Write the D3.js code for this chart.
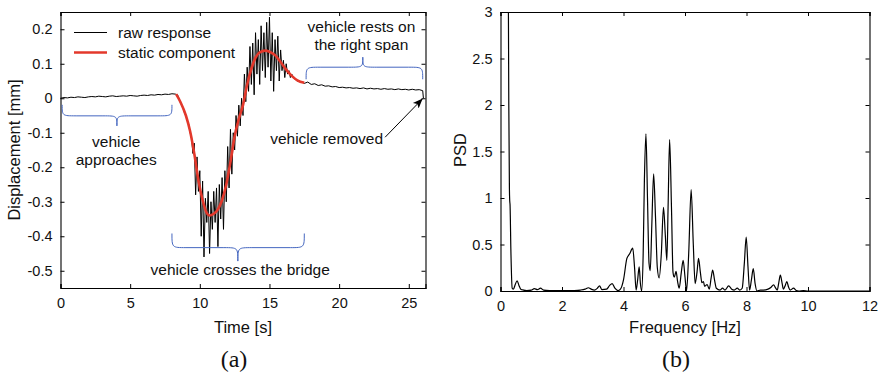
<!DOCTYPE html>
<html><head><meta charset="utf-8">
<script src="https://cdn.jsdelivr.net/npm/d3@7"></script>
<style>
body{margin:0;background:#fff;}
svg{display:block;}
text{font-family:"Liberation Sans",Arial,sans-serif;fill:#111;}
</style></head>
<body><svg id="c" width="881" height="373"></svg>
<script>
// ---------- DATA ----------
const timeTicks = [0,5,10,15,20,25];
const dispTicks = [-0.5,-0.4,-0.3,-0.2,-0.1,0,0.1,0.2];
const freqTicks = [0,2,4,6,8,10,12];
const psdTicks = [0,0.5,1,1.5,2,2.5,3];
const legendLabels = ["raw response","static component"];

// raw response: [time s, displacement mm]
const rawResponse = [
[0,0.000],[0.25,0.002],[0.5,0.001],[0.75,0.003],[1,0.002],[1.25,0.004],[1.5,0.003],[1.75,0.002],[2,0.004],[2.25,0.005],
[2.5,0.004],[2.75,0.006],[3,0.005],[3.25,0.004],[3.5,0.006],[3.75,0.007],[4,0.005],[4.25,0.006],[4.5,0.007],[4.75,0.006],
[5,0.008],[5.25,0.007],[5.5,0.006],[5.75,0.008],[6,0.009],[6.25,0.008],[6.5,0.010],[6.75,0.009],[7,0.011],[7.25,0.010],
[7.5,0.012],[7.75,0.011],[8,0.013],[8.25,0.012],
[8.4,0.010],[8.5,0.0],[8.6,-0.012],[8.7,-0.02],[8.8,-0.03],[8.9,-0.042],[9.0,-0.05],[9.1,-0.065],[9.2,-0.075],[9.3,-0.1],
[9.4,-0.11],[9.5,-0.16],[9.6,-0.13],[9.7,-0.28],[9.8,-0.17],[9.9,-0.27],[10.0,-0.21],[10.1,-0.40],[10.2,-0.24],[10.3,-0.46],
[10.4,-0.29],[10.5,-0.36],[10.6,-0.27],[10.7,-0.45],[10.8,-0.30],[10.9,-0.38],[11.0,-0.27],[11.1,-0.36],[11.2,-0.26],[11.3,-0.43],
[11.4,-0.25],[11.5,-0.35],[11.6,-0.23],[11.7,-0.38],[11.8,-0.21],[11.9,-0.30],[12.0,-0.14],[12.1,-0.26],[12.2,-0.09],[12.3,-0.22],
[12.4,-0.10],[12.5,-0.15],[12.6,-0.05],[12.7,-0.11],[12.8,-0.02],[12.9,-0.08],[13.0,0.0],[13.1,-0.05],[13.2,0.07],[13.3,-0.01],
[13.4,0.09],[13.5,0.02],[13.6,0.15],[13.7,0.04],[13.8,0.16],[13.9,0.01],[14.0,0.19],[14.1,0.07],[14.2,0.17],[14.3,0.04],
[14.4,0.21],[14.5,0.08],[14.6,0.19],[14.7,0.06],[14.8,0.22],[14.9,0.09],[15.0,0.235],[15.1,0.05],[15.2,0.19],[15.3,0.02],
[15.4,0.17],[15.5,0.08],[15.6,0.18],[15.7,0.05],[15.8,0.14],[15.9,0.08],[16.0,0.11],[16.1,0.06],[16.2,0.10],[16.3,0.07],
[16.4,0.08],[16.5,0.06],[16.6,0.07],
[16.75,0.058],[17,0.05],[17.25,0.048],[17.5,0.043],[17.75,0.047],[18,0.04],[18.25,0.042],[18.5,0.037],[18.75,0.039],[19,0.035],
[19.25,0.036],[19.5,0.033],[19.75,0.034],[20,0.031],[20.25,0.032],[20.5,0.03],[20.75,0.031],[21,0.029],[21.25,0.030],[21.5,0.028],
[21.75,0.03],[22,0.027],[22.25,0.029],[22.5,0.027],[22.75,0.028],[23,0.026],[23.25,0.028],[23.5,0.026],[23.75,0.027],[24,0.025],
[24.25,0.027],[24.5,0.025],[24.75,0.026],[25,0.024],[25.25,0.026],[25.5,0.024],[25.75,0.025],[26.0,0.022],[26.05,0.0]
];

// static component: [time s, displacement mm]
const staticComponent = [
[8.3,0.012],[8.6,-0.01],[9.0,-0.05],[9.3,-0.095],[9.6,-0.16],[9.9,-0.238],[10.2,-0.295],[10.5,-0.333],[10.7,-0.34],[11.0,-0.335],
[11.3,-0.322],[11.6,-0.295],[11.9,-0.25],[12.2,-0.185],[12.5,-0.11],[12.8,-0.06],[13.1,-0.02],[13.4,0.04],[13.7,0.085],[14.0,0.118],
[14.3,0.133],[14.7,0.138],[15.0,0.135],[15.4,0.125],[15.8,0.105],[16.2,0.083],[16.6,0.065],[17.0,0.052],[17.5,0.045]
];

// PSD: [frequency Hz, PSD]
const psd = [
[0.25,3.6],[0.27,2.0],[0.29,1.1],[0.30,0.97],[0.31,0.93],[0.34,0.4],[0.38,0.03],[0.42,0.02],[0.48,0.07],[0.54,0.11],
[0.6,0.06],[0.66,0.02],[0.75,0.01],[0.85,0.005],[1.0,0.01],[1.1,0.025],[1.2,0.015],[1.3,0.03],[1.4,0.01],[1.6,0.005],
[2.0,0.003],[2.4,0.005],[2.6,0.01],[2.75,0.02],[2.86,0.035],[2.95,0.02],[3.05,0.01],[3.15,0.03],[3.22,0.055],[3.3,0.015],
[3.45,0.02],[3.55,0.06],[3.63,0.08],[3.72,0.03],[3.82,0.005],[3.9,0.02],[4.0,0.12],[4.11,0.35],[4.2,0.4],[4.3,0.46],
[4.36,0.25],[4.41,0.01],[4.46,0.12],[4.51,0.26],[4.55,0.08],[4.59,0.0],[4.64,0.4],[4.68,1.2],[4.73,1.69],[4.78,1.0],
[4.83,0.3],[4.87,0.22],[4.92,0.7],[4.98,1.26],[5.04,0.8],[5.1,0.25],[5.16,0.14],[5.23,0.4],[5.3,0.9],[5.36,0.6],
[5.41,0.33],[5.45,0.9],[5.5,1.63],[5.56,0.9],[5.61,0.2],[5.65,0.15],[5.71,0.21],[5.76,0.1],[5.81,0.03],[5.88,0.2],
[5.94,0.33],[6.0,0.15],[6.05,0.0],[6.12,0.4],[6.2,1.09],[6.27,0.5],[6.33,0.08],[6.39,0.2],[6.44,0.35],[6.5,0.2],
[6.55,0.09],[6.6,0.1],[6.64,0.05],[6.72,0.07],[6.79,0.02],[6.85,0.14],[6.9,0.225],[6.96,0.12],[7.02,0.03],[7.14,0.01],
[7.22,0.03],[7.3,0.01],[7.42,0.055],[7.52,0.02],[7.6,0.01],[7.7,0.03],[7.78,0.01],[7.86,0.03],[7.93,0.3],[7.99,0.58],
[8.05,0.25],[8.1,0.01],[8.16,0.12],[8.22,0.24],[8.28,0.08],[8.34,0.0],[8.45,0.01],[8.55,0.01],[8.7,0.02],[8.8,0.04],
[8.88,0.065],[8.95,0.03],[9.0,0.01],[9.05,0.09],[9.1,0.17],[9.16,0.08],[9.2,0.02],[9.26,0.06],[9.31,0.1],[9.37,0.04],
[9.42,0.01],[9.53,0.03],[9.62,0.005],[9.7,0.0],[9.85,0.005],[10.0,0.0],[11,0.0],[12,0.0]
];

// ---------- DRAW ----------
const svg = d3.select("#c");
const blue = "#4466c0";

function frame(g, x, y, xt, yt, xfmt, yfmt){
  const [x0,x1] = x.range(), [y0,y1] = y.range();
  g.append("g").attr("transform",`translate(0,${y0})`)
    .call(d3.axisBottom(x).tickValues(xt).tickSize(-4).tickPadding(10).tickFormat(xfmt));
  g.append("g").attr("transform",`translate(0,${y1})`)
    .call(d3.axisTop(x).tickValues(xt).tickSize(-4).tickFormat(""));
  g.append("g").attr("transform",`translate(${x0},0)`)
    .call(d3.axisLeft(y).tickValues(yt).tickSize(-4).tickPadding(8).tickFormat(yfmt));
  g.append("g").attr("transform",`translate(${x1},0)`)
    .call(d3.axisRight(y).tickValues(yt).tickSize(-4).tickFormat(""));
  g.selectAll(".domain").attr("stroke","#000").attr("stroke-width",1.1);
  g.selectAll(".tick line").attr("stroke","#000");
  g.selectAll(".tick text").style("font-size","14.5px").attr("fill","#111");
}

// ---- panel (a)
const xa = d3.scaleLinear().domain([0,26.2]).range([60.5,425.5]);
const ya = d3.scaleLinear().domain([-0.55,0.25]).range([288,12]);
const ga = svg.append("g");
const fmtA = d => d===0 ? "0" : d3.format(".1f")(d).replace("−","-");
frame(ga, xa, ya, timeTicks, dispTicks, d3.format("d"), fmtA);

const lineA = d3.line().x(d=>xa(d[0])).y(d=>ya(d[1]));
ga.append("path").datum(rawResponse).attr("d",lineA)
  .attr("fill","none").attr("stroke","#000").attr("stroke-width",1);
ga.append("path").datum(staticComponent).attr("d",lineA.curve(d3.curveMonotoneX))
  .attr("fill","none").attr("stroke","#e3382b").attr("stroke-width",2.6);

// legend
const leg = ga.append("g");
[["#000",1.2],["#e3382b",2.6]].forEach((s,i)=>{
  const yy = 32.5 + i*20;
  leg.append("line").attr("x1",74).attr("x2",107).attr("y1",yy).attr("y2",yy)
    .attr("stroke",s[0]).attr("stroke-width",s[1]);
  leg.append("text").attr("x",118).attr("y",yy+5.5).style("font-size","15.5px").text(legendLabels[i]);
});

// braces (in data units)
function brace(g, t1, t2, vEnd, vMid, vTip, tTip){
  const x1=xa(t1), x2=xa(t2), ye=ya(vEnd), ym=ya(vMid), yt=ya(vTip), xm=xa(tTip);
  const r = 14;
  const p = `M${x1},${ye} C${x1},${ym} ${x1},${ym} ${x1+r},${ym} L${xm-r},${ym} C${xm},${ym} ${xm},${ym} ${xm},${yt}`+
            ` M${xm},${yt} C${xm},${ym} ${xm},${ym} ${xm+r},${ym} L${x2-r},${ym} C${x2},${ym} ${x2},${ym} ${x2},${ye}`;
  g.append("path").attr("d",p).attr("fill","none").attr("stroke",blue).attr("stroke-width",1);
}
brace(ga, 0.12, 8.0, -0.019, -0.051, -0.08, 4.05);
brace(ga, 8.0, 17.5, -0.392, -0.433, -0.472, 12.73);
brace(ga, 17.63, 26.0, 0.055, 0.09, 0.119, 21.7);

const ann = (x,y,s,anchor="middle") => ga.append("text").attr("x",x).attr("y",y)
  .attr("text-anchor",anchor).style("font-size","15.5px").text(s);
ann(xa(4.0), 146.5, "vehicle");
ann(xa(4.0), 164.5, "approaches");
ann(xa(12.9), 275, "vehicle crosses the bridge");
ann(xa(21.6), 31.5, "vehicle rests on");
ann(xa(21.6), 50, "the right span");
ann(xa(19.1), 144, "vehicle removed");

// arrow
svg.append("defs").append("marker").attr("id","ah").attr("viewBox","0 0 10 10")
  .attr("refX",9).attr("refY",5).attr("markerWidth",10).attr("markerHeight",10).attr("orient","auto")
  .append("path").attr("d","M0,1 L10,5 L0,9 L2.5,5 Z").attr("fill","#000");
ga.append("line").attr("x1",xa(23.3)).attr("y1",ya(-0.113)).attr("x2",xa(25.95)).attr("y2",ya(-0.003))
  .attr("stroke","#000").attr("stroke-width",1).attr("marker-end","url(#ah)");

ga.append("text").attr("x",(60.5+425.5)/2+0).attr("y",333).attr("text-anchor","middle")
  .style("font-size","16.5px").text("Time [s]");
ga.append("text").attr("transform","translate(20,150) rotate(-90)").attr("text-anchor","middle")
  .style("font-size","16.5px").text("Displacement [mm]");
ga.append("text").attr("x",234).attr("y",367).attr("text-anchor","middle")
  .style("font-family","'Liberation Serif','Times New Roman',serif").style("font-size","24px").text("(a)");

// ---- panel (b)
const xb = d3.scaleLinear().domain([0,12]).range([500.5,869.5]);
const yb = d3.scaleLinear().domain([0,3]).range([291,12]);
const gb = svg.append("g");
frame(gb, xb, yb, freqTicks, psdTicks, d3.format("d"), d => d3.format("")(d));
svg.select("defs").append("clipPath").attr("id","cb").append("rect")
  .attr("x",500.5).attr("y",12).attr("width",369).attr("height",279);
gb.append("path").datum(psd).attr("clip-path","url(#cb)")
  .attr("d",d3.line().x(d=>xb(d[0])).y(d=>yb(d[1])).curve(d3.curveMonotoneX))
  .attr("fill","none").attr("stroke","#000").attr("stroke-width",1.2);
gb.append("text").attr("x",685).attr("y",333).attr("text-anchor","middle")
  .style("font-size","16.5px").text("Frequency [Hz]");
gb.append("text").attr("transform","translate(466,150) rotate(-90)").attr("text-anchor","middle")
  .style("font-size","16.5px").text("PSD");
gb.append("text").attr("x",676).attr("y",367).attr("text-anchor","middle")
  .style("font-family","'Liberation Serif','Times New Roman',serif").style("font-size","24px").text("(b)");
</script></body></html>
